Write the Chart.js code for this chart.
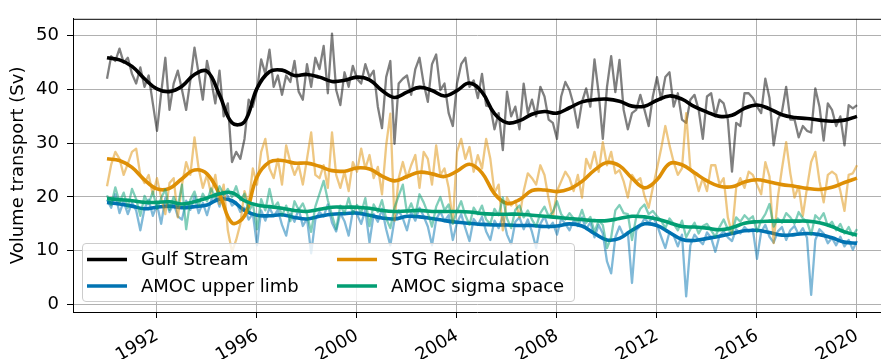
<!DOCTYPE html>
<html lang="en">
<head>
    <meta charset="UTF-8">
    <title>Volume transport</title>
    <script src="https://cdn.jsdelivr.net/npm/chart.js@4.4.0/dist/chart.umd.min.js"></script>
    <style>
        body { margin: 0; background: #fff; }
        canvas { display: block; }
    </style>
</head>
<body>
    <canvas id="transport" width="881" height="359"></canvas>

    <script>
        // raw series: one value every two months from 1990.0 to 2020.0
        const RAW_START = 1990;
        const RAW_STEP = 1 / 6;
        // smoothed series: one value every half year
        const SMOOTH_START = 1990;
        const SMOOTH_STEP = 0.5;

        const gulfRaw = [
            42.0, 46.2, 45.3, 47.6, 45.0, 45.9, 42.9, 41.1, 44.1, 40.5,
            42.6, 37.4, 32.3, 39.3, 45.9, 36.2, 41.1, 43.5, 39.9, 36.2,
            41.7, 47.8, 42.9, 38.1, 45.3, 41.7, 37.4, 43.5, 35.0,
            37.4, 26.5, 28.4, 27.1, 30.8, 38.1, 36.8, 39.9, 45.6, 42.9,
            47.4, 40.5, 42.6, 39.0, 42.6, 41.4, 45.3, 39.6, 38.1, 44.7,
            40.5, 45.9, 43.8, 48.1, 39.3, 50.4, 39.9, 37.1, 43.2, 40.5,
            44.4, 42.0,
            41.1, 44.7, 42.3, 43.5, 36.8, 32.8, 42.3, 45.3, 29.9, 41.1,
            42.0, 42.6, 39.0, 43.8, 45.9, 41.1, 37.7, 44.7, 46.5, 39.9,
            41.1, 35.6, 33.2, 41.1, 44.7, 45.9, 40.5, 41.7, 38.4, 42.9,
            37.0,
            36.8, 32.6, 35.6, 28.7, 39.6, 35.0, 36.8, 32.6, 41.1, 35.6,
            38.1, 35.0, 40.5, 38.7, 34.4, 33.8, 30.8, 38.7, 41.4, 39.9,
            37.1, 32.9, 37.7, 40.2, 36.8, 45.6, 39.3, 30.8, 40.5, 46.2,
            39.5,
            45.5, 36.2, 32.6, 35.6, 36.2, 39.0, 36.2, 33.2, 38.7, 42.3,
            38.1, 42.3, 43.2, 36.8, 39.3, 34.4, 33.8, 38.1, 39.0, 36.2,
            30.8, 38.7, 39.3, 35.0, 38.1, 37.4, 34.4, 24.7, 33.8, 33.2,
            39.3, 39.3,
            38.4, 36.8, 35.6, 42.0, 38.4, 29.6, 34.4, 35.9, 40.5, 34.4,
            34.4, 31.1, 33.2, 32.3, 32.0, 40.2, 36.8, 30.5, 37.4, 36.2,
            33.2, 35.0, 29.6, 37.1, 36.5, 37.1
        ];
        const stgRaw = [
            22.0, 26.0, 28.4, 27.1, 24.1, 26.2, 28.4, 29.0, 24.1, 22.6,
            24.1, 20.5, 23.5, 19.9, 16.8, 22.6, 23.5, 16.2, 22.3, 26.5,
            24.1, 31.1, 25.3, 21.7, 24.1, 20.5, 24.1, 18.7, 22.3,
            13.8, 9.8, 12.0, 15.0, 21.1, 18.7, 25.3, 22.3, 28.4, 30.8,
            25.3, 23.5, 27.1, 22.3, 29.6, 26.5, 24.1, 25.9, 22.3, 27.1,
            32.0, 24.1, 23.5, 25.9, 21.7, 32.0, 24.1, 21.7, 24.7, 21.1,
            26.5, 24.7,
            29.0, 25.3, 27.8, 23.5, 25.6, 20.5, 29.6, 35.5, 15.6, 23.5,
            26.5, 23.5, 25.9, 27.8, 21.7, 28.4, 27.1, 22.3, 29.6, 24.1,
            25.3, 21.7, 15.3, 28.4, 30.8, 27.1, 29.3, 24.7, 27.8, 25.3,
            30.8,
            27.1, 20.8, 22.3, 13.8, 19.9, 18.4, 19.3, 16.2, 21.1, 24.4,
            23.5, 22.3, 25.9, 24.1, 19.6, 16.2, 21.1, 22.9, 24.7, 23.5,
            21.1, 24.1, 19.9, 27.1, 25.3, 28.4, 24.7, 30.2, 25.9, 28.4,
            24.4,
            25.0, 22.9, 19.9, 24.1, 22.9, 23.5, 20.2, 18.0, 21.7, 25.3,
            29.0, 33.2, 29.6, 26.5, 24.1, 25.3, 35.6, 25.3, 24.1, 21.1,
            23.5, 21.1, 25.9, 25.9, 22.3, 23.5, 16.2, 13.2, 21.7, 23.5,
            21.7, 24.7,
            24.1, 22.3, 20.5, 26.5, 23.8, 11.4, 19.9, 25.3, 30.2, 24.4,
            19.9, 22.0, 16.5, 21.7, 26.5, 28.4, 22.9, 19.0, 24.1, 24.7,
            24.1, 21.1, 17.4, 24.1, 24.4, 25.9
        ];
        const upperRaw = [
            19.5, 18.0, 20.5, 17.0, 19.2, 16.8, 18.9, 17.5, 13.8, 17.8,
            19.5, 16.5, 18.6, 15.0, 19.8, 17.2, 18.8, 16.4, 15.8, 19.3,
            17.6, 20.1, 17.0, 18.9, 16.6, 19.4, 20.6, 18.2, 21.0,
            20.2, 18.4, 19.0, 17.2, 18.0, 15.8, 16.9, 11.0, 17.5, 15.6,
            18.0, 16.4, 17.6, 14.8, 12.8, 16.9, 15.4, 17.8, 14.6, 16.0,
            9.5, 15.8, 17.2, 16.4, 18.6, 15.2, 13.6, 17.0, 15.5, 12.8,
            17.4, 16.8,
            15.0, 17.6, 11.5, 16.8, 15.4, 17.8, 14.0, 11.0, 15.8, 17.5,
            16.0, 13.8, 17.2, 15.6, 18.0, 16.4, 14.5, 11.0, 15.8, 17.3,
            15.5, 16.6, 12.0, 15.2, 16.8, 14.2, 11.8, 15.9, 14.8, 16.3,
            13.6,
            12.0, 15.6, 14.2, 16.5, 13.0, 11.2, 15.4, 16.2, 14.0, 15.8,
            13.5, 10.5, 15.0, 16.4, 14.2, 15.2, 13.0, 16.0, 15.0, 13.8,
            15.6, 14.6, 16.2, 14.0, 15.3, 12.5, 14.8, 13.2, 8.0, 5.8,
            12.5,
            14.5, 12.8, 13.5, 4.0, 13.8, 14.6, 16.0, 15.2, 16.4, 14.8,
            12.6, 10.5, 13.5, 12.8, 10.8, 13.0, 1.5, 11.0, 13.0, 12.0,
            11.2, 13.4, 12.4, 9.8, 12.8, 13.6, 12.5, 11.8, 14.0, 13.2,
            14.4, 13.6,
            14.0, 8.5, 13.5, 14.8, 12.6, 11.5, 13.6, 14.4, 12.0, 13.8,
            14.6, 13.0, 14.2, 12.4, 1.8, 12.0, 14.0, 13.2, 11.4, 12.4,
            11.0, 12.6, 10.8, 12.0, 10.2, 11.8
        ];
        const sigmaRaw = [
            20.3, 18.5, 21.8, 19.0, 20.8, 18.0, 21.5, 19.6, 16.5, 20.2,
            18.7, 21.0, 17.8, 19.8, 21.4, 17.6, 20.0, 18.3, 22.3, 14.0,
            19.5, 21.0, 18.4, 20.6, 19.2, 21.6, 19.8, 22.0, 20.4,
            21.5, 20.0, 22.0, 19.4, 20.6, 17.2, 18.8, 14.0, 19.6, 17.5,
            21.5, 18.0, 19.0, 16.5, 18.4, 15.5, 19.2, 17.6, 18.8, 16.8,
            13.5, 18.2, 20.6, 23.0, 19.4, 16.6, 14.0, 18.4, 17.0, 19.8,
            16.9, 18.5,
            17.0, 19.8, 14.6, 18.6, 17.2, 19.4, 16.0, 14.2, 18.0, 20.2,
            22.3, 17.0, 18.8, 16.6, 20.5, 19.0, 17.0, 14.5, 18.2, 20.0,
            17.5, 18.6, 15.0, 17.4, 19.2, 16.6, 14.8, 18.0, 16.8, 18.4,
            15.8,
            15.0, 17.8, 16.6, 19.9, 16.0, 14.2, 17.6, 18.4, 16.2, 17.5,
            15.8, 14.5, 17.0, 18.2, 16.4, 17.2, 19.2, 16.8, 15.8, 17.0,
            16.0, 15.4, 17.6, 15.2, 16.3, 13.5, 15.6, 14.8, 10.5, 12.5,
            17.5,
            18.5, 17.0, 16.8, 12.0, 16.2, 17.8, 18.6, 16.8, 17.4, 16.4,
            15.6, 14.2, 16.0, 15.0, 13.8, 15.6, 12.5, 14.0, 15.2, 13.2,
            14.6, 15.0, 13.8, 12.6, 14.4, 15.8, 14.0, 13.2, 16.2, 15.4,
            16.6, 15.8,
            16.4, 13.5, 15.6, 16.8, 18.7, 14.5, 16.0, 15.2, 17.0, 16.2,
            15.0, 17.2, 16.0, 15.4, 13.0, 16.6, 15.8, 17.0, 14.6, 15.4,
            13.8, 15.0, 13.2, 14.4, 12.8, 14.0
        ];

        const gulfSmooth = [
            45.9, 45.5, 44.3, 42.0, 40.1, 39.6, 40.6, 42.8, 43.4, 39.0,
            33.8, 34.0, 40.2, 43.3, 43.6, 42.6, 42.8, 42.3, 41.5, 41.7,
            42.3, 41.8, 39.8, 38.5, 39.5, 40.4, 39.8, 38.8, 39.8, 41.2,
            39.5, 35.5, 33.8, 34.2, 35.4, 35.9, 35.6, 36.6, 37.7, 38.1,
            38.2, 37.8, 36.9, 36.9, 38.0, 38.8, 38.2, 36.8, 35.8, 35.0,
            35.2, 36.5, 37.1, 36.4, 35.3, 34.8, 34.6, 34.3, 34.1, 34.3,
            35.0
        ];
        const stgSmooth = [
            27.1, 26.8, 25.5, 23.2, 21.5, 21.6, 23.4, 25.0, 24.3, 20.5,
            15.2, 16.5, 23.7, 26.5, 26.8, 26.3, 26.3, 25.7, 24.9, 24.8,
            25.4, 25.2, 23.9, 23.0, 23.8, 24.6, 24.3, 23.8, 24.8, 26.1,
            24.5, 20.6, 18.8, 19.5, 21.2, 21.3, 21.0, 21.5, 22.9, 25.0,
            26.4, 25.8, 23.5, 21.7, 23.2, 26.2, 26.0, 24.5, 23.0, 22.0,
            21.9, 22.8, 23.2, 22.8, 22.3, 22.0, 21.6, 21.4, 21.8, 22.7,
            23.5
        ];
        const upperSmooth = [
            19.0, 18.7, 18.3, 17.8, 18.1, 18.3, 18.0, 18.2, 18.5, 19.6,
            19.3, 17.5, 16.6, 16.5, 16.7, 16.2, 15.9, 16.4, 16.8, 16.9,
            17.0, 16.6, 16.1, 15.9, 16.4, 16.3, 16.0, 15.6, 15.3, 15.1,
            14.9, 14.8, 14.8, 14.7, 14.7, 14.5, 14.6, 15.0, 14.6, 13.2,
            12.0, 12.3, 13.8, 15.0, 14.7, 13.4, 12.1, 11.9, 12.3, 12.7,
            13.2, 13.7, 13.8, 13.4, 12.9, 13.0, 13.2, 13.0, 12.4, 11.6,
            11.4
        ];
        const sigmaSmooth = [
            19.7, 19.5, 19.3, 19.0, 19.0, 19.1, 18.7, 19.1, 19.8, 20.6,
            20.8, 19.3, 18.5, 18.2, 17.9, 17.5, 17.3, 17.7, 18.1, 18.1,
            18.1, 17.9, 17.5, 17.3, 17.4, 17.5, 17.3, 17.3, 17.3, 17.2,
            16.9, 16.8, 16.8, 16.8, 16.6, 16.4, 16.2, 16.0, 15.8, 15.6,
            15.6, 16.0, 16.4, 16.3, 15.9, 15.2, 14.5, 14.4, 14.2, 13.9,
            14.3, 15.1, 15.4, 15.5, 15.5, 15.5, 15.5, 15.2, 14.5, 13.5,
            12.9
        ];

        const xTicks = [1992, 1996, 2000, 2004, 2008, 2012, 2016, 2020];
        const yTicks = [0, 10, 20, 30, 40, 50];

        const FONT = "'DejaVu Sans', sans-serif";

        function toPoints(values, start, step) {
            return values.map((v, i) => ({ x: start + i * step, y: v }));
        }

        // [label, raw, smooth, line colour, faded colour]
        const series = [
            ['Gulf Stream', gulfRaw, gulfSmooth, '#000000', 'rgba(0, 0, 0, 0.5)'],
            ['AMOC upper limb', upperRaw, upperSmooth, '#0173b2', 'rgba(1, 115, 178, 0.5)'],
            ['STG Recirculation', stgRaw, stgSmooth, '#de8f05', 'rgba(222, 143, 5, 0.5)'],
            ['AMOC sigma space', sigmaRaw, sigmaSmooth, '#029e73', 'rgba(2, 158, 115, 0.5)']
        ];

        const datasets = [];
        series.forEach(([label, raw, smooth, color, faded], k) => {
            datasets.push({
                label: label + ' (monthly)',
                data: toPoints(raw, RAW_START, RAW_STEP),
                borderColor: faded,
                borderWidth: 2.3,
                pointRadius: 0,
                tension: 0,
                borderJoinStyle: 'round',
                order: 20 - 2 * k
            });
            datasets.push({
                label: label,
                data: toPoints(smooth, SMOOTH_START, SMOOTH_STEP),
                borderColor: color,
                borderWidth: 3.6,
                pointRadius: 0,
                tension: 0.4,
                borderJoinStyle: 'round',
                order: 19 - 2 * k
            });
        });

        // top spine and the boxed legend sitting inside the plot
        const framePlugin = {
            id: 'frame',
            afterDraw(chart) {
                const { ctx, chartArea: a } = chart;
                ctx.save();
                ctx.strokeStyle = '#000';
                ctx.lineWidth = 1;
                ctx.beginPath();
                ctx.moveTo(a.left, a.top + 0.5);
                ctx.lineTo(a.right, a.top + 0.5);
                ctx.stroke();

                // legend box
                const bx = 82, by = 243.5, bw = 492, bh = 58, r = 3.5;
                ctx.beginPath();
                ctx.roundRect(bx + 0.5, by, bw, bh, r);
                ctx.fillStyle = 'rgba(255, 255, 255, 0.8)';
                ctx.fill();
                ctx.strokeStyle = '#cccccc';
                ctx.stroke();

                const cols = [87, 337];
                const rows = [259.5, 286];
                const layout = [[0, 0], [0, 1], [1, 0], [1, 1]];
                ctx.font = '18px ' + FONT;
                ctx.textBaseline = 'middle';
                ctx.fillStyle = '#000';
                series.forEach(([label, , , color], k) => {
                    const [c, rw] = layout[k];
                    const x = cols[c], y = rows[rw];
                    ctx.strokeStyle = color;
                    ctx.lineWidth = 3.6;
                    ctx.beginPath();
                    ctx.moveTo(x, y);
                    ctx.lineTo(x + 40, y);
                    ctx.stroke();
                    ctx.fillText(label, x + 54, y + 1);
                });
                ctx.restore();
            }
        };

        new Chart(document.getElementById('transport'), {
            type: 'line',
            data: { datasets },
            options: {
                responsive: false,
                animation: false,
                events: [],
                layout: { padding: { top: 12, left: 0, right: 0, bottom: 0 } },
                plugins: {
                    legend: { display: false },
                    tooltip: { enabled: false }
                },
                scales: {
                    x: {
                        type: 'linear',
                        min: 1988.64,
                        max: 2020.96,
                        afterBuildTicks: (s) => { s.ticks = xTicks.map(v => ({ value: v })); },
                        afterFit: (s) => { s.height = 47; },
                        ticks: {
                            callback: (v) => String(v),
                            minRotation: 30,
                            maxRotation: 30,
                            color: '#000',
                            font: { family: FONT, size: 18 },
                            padding: 7
                        },
                        grid: {
                            color: '#b0b0b0',
                            lineWidth: 1,
                            tickLength: 6,
                            tickColor: '#000'
                        },
                        border: { color: '#000', width: 1 }
                    },
                    y: {
                        min: -1.4,
                        max: 53.15,
                        afterBuildTicks: (s) => { s.ticks = yTicks.map(v => ({ value: v })); },
                        afterFit: (s) => { s.width = 73; },
                        ticks: {
                            callback: (v) => String(v),
                            color: '#000',
                            font: { family: FONT, size: 18 },
                            padding: 8
                        },
                        grid: {
                            color: '#b0b0b0',
                            lineWidth: 1,
                            tickLength: 6,
                            tickColor: '#000'
                        },
                        border: { color: '#000', width: 1 },
                        title: {
                            display: true,
                            text: 'Volume transport (Sv)',
                            color: '#000',
                            font: { family: FONT, size: 18 },
                            padding: { top: 8, bottom: 0 }
                        }
                    }
                }
            },
            plugins: [framePlugin]
        });
    </script>
</body>
</html>
